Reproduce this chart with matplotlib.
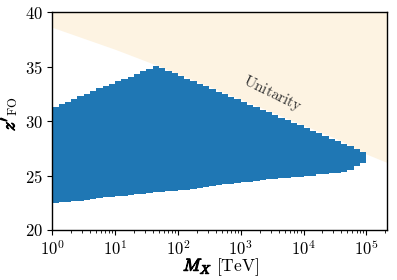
import matplotlib
matplotlib.use("Agg")
import matplotlib.pyplot as plt
import matplotlib.patheffects as pe
from matplotlib.ticker import FixedLocator, FixedFormatter

plt.rcParams['mathtext.fontset'] = 'cm'
plt.rcParams['font.family'] = 'serif'
plt.rcParams['font.serif'] = ['cmr10', 'DejaVu Serif']
plt.rcParams['axes.formatter.use_mathtext'] = True

# Bin edges of M_X [TeV] (0.1-decade grid from 1 to 1e5)
mass_edges = [1.0, 1.26, 1.58, 2.0, 2.51, 3.16, 3.98, 5.01, 6.31, 7.94,
              10.0, 12.6, 15.8, 20.0, 25.1, 31.6, 39.8, 50.1, 63.1, 79.4,
              100.0, 126, 158, 200, 251, 316, 398, 501, 631, 794,
              1000.0, 1259, 1585, 1995, 2512, 3162, 3981, 5012, 6310, 7943,
              1.0e4, 1.26e4, 1.58e4, 2.0e4, 2.51e4, 3.16e4, 3.98e4, 5.01e4, 6.31e4, 7.94e4,
              9.8e4]

z_upper = [31.3, 31.6, 31.8, 32.05, 32.3, 32.5, 32.75, 33.0, 33.2, 33.4,
           33.65, 33.9, 34.1, 34.35, 34.6, 34.8, 35.05, 34.9, 34.65, 34.4,
           34.15, 33.9, 33.7, 33.45, 33.2, 32.95, 32.7, 32.45, 32.25, 32.0,
           31.75, 31.5, 31.3, 31.05, 30.8, 30.55, 30.3, 30.1, 29.85, 29.6,
           29.35, 29.1, 28.9, 28.65, 28.4, 28.15, 27.9, 27.7, 27.45, 27.15]

z_lower = [22.5, 22.55, 22.6, 22.65, 22.7, 22.8, 22.85, 22.9, 23.0, 23.05,
           23.1, 23.15, 23.2, 23.3, 23.35, 23.4, 23.45, 23.5, 23.55, 23.6,
           23.65, 23.7, 23.8, 23.85, 23.95, 24.0, 24.1, 24.2, 24.25, 24.35,
           24.4, 24.45, 24.5, 24.55, 24.65, 24.7, 24.75, 24.8, 24.85, 24.9,
           24.95, 25.0, 25.1, 25.15, 25.2, 25.25, 25.35, 25.55, 25.9, 26.2]

# Unitarity boundary
unit_mass = [1.0, 10.0, 47.0, 1000.0, 3.8e4, 1.0e5, 2.2e5]
unit_z = [38.62, 36.6, 35.12, 32.0, 28.25, 26.98, 26.17]

W, H = 397, 280
fig = plt.figure(figsize=(W / 100, H / 100), dpi=100)
ax = fig.add_axes([0.1317, 0.1786, 0.8443, 0.7775])

ax.fill_between(unit_mass, unit_z, 40, color='#fdf3e2', lw=0, zorder=1)
ax.fill_between(mass_edges, z_lower + [z_lower[-1]], z_upper + [z_upper[-1]],
                step='post', color='#1f77b4', lw=0, zorder=2)

ax.set_xscale('log')
ax.set_xlim(1, 2.17e5)
ax.set_ylim(20, 40)

ax.xaxis.set_major_locator(FixedLocator([1, 10, 100, 1e3, 1e4, 1e5]))
ax.xaxis.set_major_formatter(FixedFormatter([r'$10^{0}$', r'$10^{1}$', r'$10^{2}$',
                                             r'$10^{3}$', r'$10^{4}$', r'$10^{5}$']))
yt = [20, 25, 30, 35, 40]
ax.yaxis.set_major_locator(FixedLocator(yt))
ax.yaxis.set_major_formatter(FixedFormatter([rf'${v}$' for v in yt]))
ax.tick_params(labelsize=12)
ax.tick_params(axis='x', pad=3)

ax.text(3250, 32.5, r'$\mathrm{Unitarity}$', rotation=-26, fontsize=11,
        ha='center', va='center', color='#333333', zorder=3)

bold = [pe.withStroke(linewidth=0.8, foreground='black')]
rend = fig.canvas.get_renderer()

# x label: bold-italic M_X followed by [TeV]
xl_x, xl_y = 183 / W, 1 - 270.8 / H
tmp = fig.text(xl_x, xl_y, r'$M_X\ [\mathrm{TeV}]$', fontsize=12.5, ha='left', va='baseline')
bb_full = tmp.get_window_extent(rend)
tmp.remove()
fig.text(xl_x, xl_y, r'$M_X$', fontsize=12.5, ha='left', va='baseline', path_effects=bold)
fig.text(bb_full.x1 / W, xl_y, r'$[\mathrm{TeV}]$', fontsize=12.5, ha='right', va='baseline')

# y label: bold z' with roman FO subscript
yl_x, yl_y = 14.5 / W, 1 - 131 / H
tmp = fig.text(yl_x, yl_y, r"$z'_{\mathrm{FO}}$", fontsize=13, rotation=90,
               rotation_mode='anchor', ha='left', va='baseline')
bb_full = tmp.get_window_extent(rend)
tmp.remove()
fig.text(yl_x, yl_y, r"$z'$", fontsize=13, rotation=90,
         rotation_mode='anchor', ha='left', va='baseline', path_effects=bold)
fig.text(bb_full.x1 / W, bb_full.y1 / H, r'$\mathrm{FO}$', fontsize=13 * 0.7,
         rotation=90, ha='right', va='top')

for s in ax.spines.values():
    s.set_linewidth(1.0)
    s.set_zorder(4)

fig.savefig('out.png', dpi=100)
